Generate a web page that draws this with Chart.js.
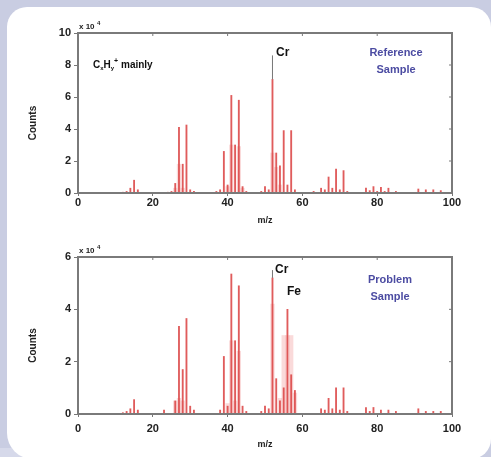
<!DOCTYPE html>
<html>
<head>
<meta charset="utf-8">
<script src="https://cdn.jsdelivr.net/npm/chart.js@4.4.1/dist/chart.umd.min.js"></script>
<style>
  body { margin: 0; background: #c9cde2; width: 491px; height: 457px; overflow: hidden; position: relative; }
  #strip { position: absolute; left: 0; top: 448px; width: 110px; height: 9px; background: #d6d9ea; }
  #panel { position: absolute; left: 7px; top: 7px; width: 484px; height: 452px; background: #fff; border-radius: 20px 20px 20px 26px; }
  canvas { position: absolute; left: 0; }
  #top { top: 0; }
  #bottom { top: 228px; }
</style>
</head>
<body>
<div id="strip"></div>
<div id="panel"></div>
<canvas id="top" width="491" height="228"></canvas>
<canvas id="bottom" width="491" height="229"></canvas>
<script>
// m/z ticks
const xTicks = [0, 20, 40, 60, 80, 100];

// Reference sample (counts x 10^4)
const refMz     = [12, 13, 14, 15, 16, 24, 25, 26, 27, 28, 29, 30, 31, 37, 38, 39, 40, 41, 42, 43, 44, 45, 49, 50, 51, 52, 53, 54, 55, 56, 57, 58, 63, 65, 66, 67, 68, 69, 70, 71, 72, 77, 78, 79, 80, 81, 82, 83, 85, 91, 93, 95, 97];
const refCounts = [0.05, 0.1, 0.3, 0.8, 0.2, 0.05, 0.1, 0.6, 4.1, 1.8, 4.25, 0.2, 0.1, 0.1, 0.2, 2.6, 0.5, 6.1, 3.0, 5.8, 0.4, 0.1, 0.1, 0.4, 0.2, 7.1, 2.5, 1.7, 3.9, 0.5, 3.9, 0.2, 0.1, 0.3, 0.2, 1.0, 0.3, 1.5, 0.2, 1.4, 0.1, 0.3, 0.15, 0.4, 0.1, 0.35, 0.1, 0.3, 0.1, 0.25, 0.2, 0.2, 0.15];
const refEnvMz     = [26, 27, 28, 40, 41, 43, 44, 52, 53, 54];
const refEnvCounts = [0.3, 1.8, 0.3, 0.4, 3.0, 2.9, 0.3, 2.5, 1.6, 0.5];

// Problem sample (counts x 10^4)
const probMz     = [12, 13, 14, 15, 16, 23, 26, 27, 28, 29, 30, 31, 38, 39, 40, 41, 42, 43, 44, 45, 49, 50, 51, 52, 53, 54, 55, 56, 57, 58, 65, 66, 67, 68, 69, 70, 71, 72, 77, 78, 79, 81, 83, 85, 91, 93, 95, 97];
const probCounts = [0.05, 0.1, 0.2, 0.55, 0.15, 0.15, 0.5, 3.35, 1.7, 3.65, 0.3, 0.15, 0.15, 2.2, 0.3, 5.35, 2.8, 4.9, 0.3, 0.1, 0.1, 0.3, 0.2, 5.2, 1.35, 0.5, 1.0, 4.0, 1.5, 0.9, 0.2, 0.15, 0.6, 0.2, 1.0, 0.15, 1.0, 0.1, 0.25, 0.1, 0.25, 0.15, 0.15, 0.1, 0.2, 0.1, 0.1, 0.1];
const probEnvMz     = [26, 27, 28, 40, 41, 42, 43, 52, 54, 55, 56, 57, 58];
const probEnvCounts = [0.5, 0.6, 0.5, 0.4, 2.8, 0.5, 2.4, 4.2, 0.6, 3.0, 3.0, 3.0, 0.8];

const FONT = "'Liberation Sans', Arial, sans-serif";

function pts(xs, ys) {
    return xs.map((m, i) => ({ x: m, y: ys[i] }));
}

// frame, mirrored ticks and text labels
function decorPlugin(notes) {
    return {
        id: "decor",
        afterDraw(chart) {
            const ctx = chart.ctx;
            const a = chart.chartArea;
            const sx = chart.scales.x;
            const sy = chart.scales.y;
            ctx.save();
            ctx.strokeStyle = "#7a7a7a";
            ctx.lineWidth = 2;
            ctx.strokeRect(a.left, a.top, a.right - a.left, a.bottom - a.top);
            ctx.lineWidth = 1;
            sx.ticks.forEach(t => {
                const px = sx.getPixelForValue(t.value);
                ctx.beginPath();
                ctx.moveTo(px, a.top);
                ctx.lineTo(px, a.top + 3);
                ctx.stroke();
            });
            sy.ticks.forEach(t => {
                const py = sy.getPixelForValue(t.value);
                ctx.beginPath();
                ctx.moveTo(a.right, py);
                ctx.lineTo(a.right - 3, py);
                ctx.stroke();
            });

            // exponent label
            ctx.fillStyle = "#222";
            ctx.font = "bold 8px " + FONT;
            ctx.textBaseline = "alphabetic";
            ctx.textAlign = "left";
            ctx.fillText("x 10", a.left + 1, a.top - 4);
            ctx.font = "bold 6px " + FONT;
            ctx.fillText("4", a.left + 19, a.top - 8);

            // y axis title
            ctx.save();
            ctx.translate(33, (a.top + a.bottom) / 2 + 10);
            ctx.rotate(-Math.PI / 2);
            ctx.font = "bold 10px " + FONT;
            ctx.textAlign = "center";
            ctx.textBaseline = "middle";
            ctx.fillText("Counts", 0, 0);
            ctx.restore();

            // peak marker line
            const lx = sx.getPixelForValue(notes.line[0]);
            ctx.strokeStyle = "#777";
            ctx.lineWidth = 1;
            ctx.beginPath();
            ctx.moveTo(lx, sy.getPixelForValue(notes.line[1]));
            ctx.lineTo(lx, sy.getPixelForValue(notes.line[2]));
            ctx.stroke();

            notes.texts.forEach(n => {
                ctx.font = "bold " + n.size + "px " + FONT;
                ctx.fillStyle = n.color || "#111";
                ctx.textAlign = n.align || "left";
                ctx.textBaseline = "middle";
                ctx.fillText(n.text, n.x, n.y);
            });
            if (notes.formula) {
                const f = notes.formula;
                let x = f.x;
                const parts = [["C", 10, 0], ["x", 6, 3], ["H", 10, 0], ["y", 6, 3], ["+", 7, -4], [" mainly", 10, 0]];
                ctx.textAlign = "left";
                ctx.fillStyle = "#111";
                parts.forEach(p => {
                    ctx.font = "bold " + p[1] + "px " + FONT;
                    ctx.fillText(p[0], x, f.y + p[2]);
                    x += ctx.measureText(p[0]).width;
                });
            }
            ctx.restore();
        }
    };
}

function makeChart(id, mz, counts, envMz, envCounts, yMax, xAxisH, tickPad, titlePad, notes) {
    return new Chart(document.getElementById(id), {
        type: "bar",
        data: {
            datasets: [{
                data: pts(envMz, envCounts),
                backgroundColor: "rgba(242,150,150,0.35)",
                barThickness: 3.7,
                grouped: false,
                order: 2
            }, {
                data: pts(mz, counts),
                backgroundColor: "rgba(220,70,70,0.88)",
                barThickness: 1.2,
                grouped: false,
                order: 1
            }]
        },
        options: {
            responsive: false,
            animation: false,
            layout: { padding: { left: 0, right: 39, top: notes.padTop, bottom: 0 } },
            plugins: { legend: { display: false }, tooltip: { enabled: false } },
            scales: {
                x: {
                    type: "linear",
                    min: 0,
                    max: 100,
                    offset: false,
                    afterBuildTicks: s => { s.ticks = xTicks.map(v => ({ value: v })); },
                    afterFit: s => { s.height = xAxisH; },
                    grid: { drawOnChartArea: false, offset: false, tickLength: 3, color: "#777" },
                    border: { color: "#777", width: 2 },
                    ticks: { color: "#222", padding: tickPad, font: { family: FONT, size: 11, weight: "bold" } },
                    title: { display: true, text: "m/z", color: "#222", padding: { top: 0, bottom: titlePad }, font: { family: FONT, size: 9, weight: "bold" } }
                },
                y: {
                    min: 0,
                    max: yMax,
                    afterFit: s => { s.width = 78; },
                    grid: { drawOnChartArea: false, tickLength: 4, color: "#777" },
                    border: { color: "#777", width: 2 },
                    ticks: { stepSize: 2, color: "#222", padding: 3, font: { family: FONT, size: 11, weight: "bold" } }
                }
            }
        },
        plugins: [decorPlugin(notes)]
    });
}

makeChart("top", refMz, refCounts, refEnvMz, refEnvCounts, 10, 35, 0, 2, {
    padTop: 33,
    line: [52, 7.1, 8.6],
    formula: { x: 93, y: 65 },
    texts: [
        { text: "Cr", x: 276, y: 53, size: 12 },
        { text: "Reference", x: 396, y: 53, size: 11, color: "#4c4ca2", align: "center" },
        { text: "Sample", x: 396, y: 70, size: 11, color: "#4c4ca2", align: "center" }
    ]
});

makeChart("bottom", probMz, probCounts, probEnvMz, probEnvCounts, 6, 43, 5, 7, {
    padTop: 29,
    line: [52, 5.2, 5.5],
    texts: [
        { text: "Cr", x: 275, y: 42, size: 12 },
        { text: "Fe", x: 287, y: 64, size: 12 },
        { text: "Problem", x: 390, y: 52, size: 11, color: "#4c4ca2", align: "center" },
        { text: "Sample", x: 390, y: 69, size: 11, color: "#4c4ca2", align: "center" }
    ]
});
</script>
</body>
</html>
